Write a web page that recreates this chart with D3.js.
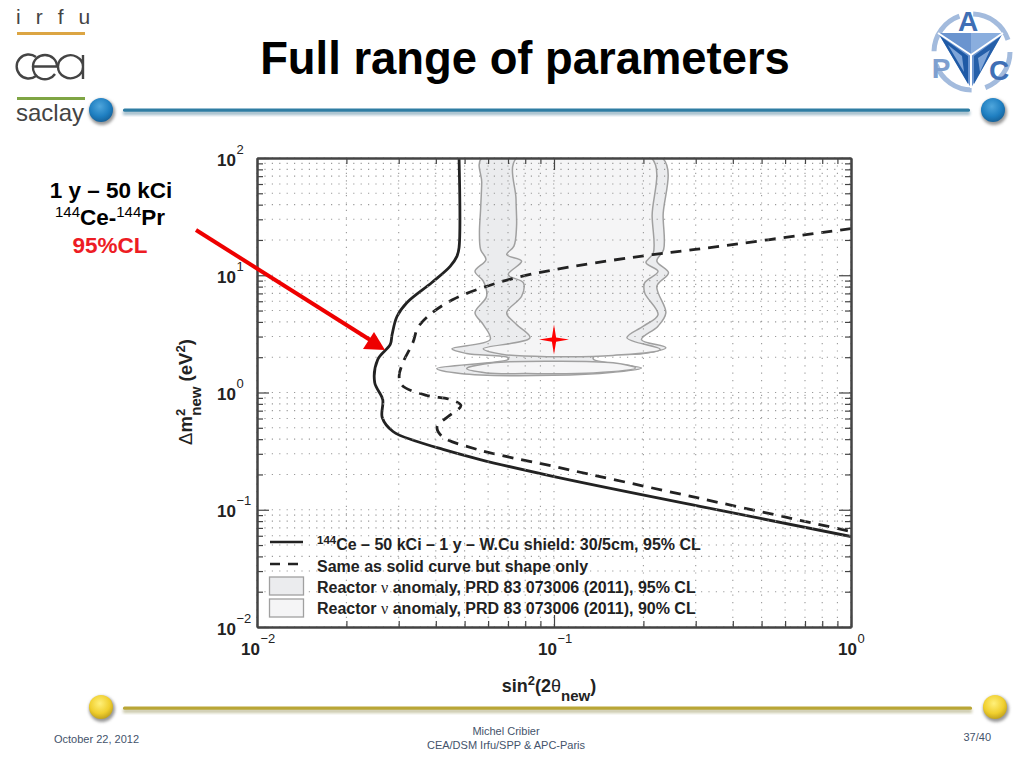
<!DOCTYPE html>
<html><head><meta charset="utf-8">
<script src="https://cdn.jsdelivr.net/npm/d3@7"></script>
<style>html,body{margin:0;background:#fff;overflow:hidden}svg{display:block}text{font-family:"Liberation Sans",Arial,sans-serif}</style>
</head><body><svg id="c" width="1024" height="768"></svg>
<script>
const titleText = "Full range of parameters";
const xDecades = [0.01, 0.1, 1];
const yDecades = [0.01, 0.1, 1, 10, 100];
const solidX = [0.0479,0.0479,0.0471,0.0447,0.0388,0.0320,0.0296,0.0285,0.0281,0.0255,0.0249,0.0265,0.0264,0.0287,0.0346,0.0423,0.0564,0.1,0.31,1];
const solidY = [100,17.2,14.5,11.9,8.67,5.86,4.45,3.12,2.57,1.91,1.22,0.872,0.612,0.465,0.382,0.327,0.268,0.192,0.107,0.0591];
const dashX = [1,0.299,0.215,0.116,0.075,0.0577,0.0457,0.0382,0.0348,0.0335,0.031,0.0301,0.0308,0.0373,0.0447,0.0486,0.044,0.0404,0.042,0.0551,0.1,0.31,1];
const dashY = [25,16.6,15,11.9,9.57,7.86,6.21,4.62,3.58,2.67,1.8,1.37,1.15,0.943,0.872,0.775,0.624,0.513,0.422,0.327,0.234,0.125,0.0653];
const cl95X = [0.0571,0.0571,0.0566,0.0561,0.0566,0.059,0.0542,0.0578,0.0593,0.0542,0.0578,0.061,0.0453,0.0508,0.0701,0.0701,0.0403,0.0483,0.0995,0.158,0.197,0.136,0.136,0.2,0.238,0.197,0.224,0.238,0.222,0.243,0.222,0.234,0.233,0.232];
const cl95Y = [100,61.8,36.4,23,16.6,13.6,10.8,8.9,6.62,4.78,3.8,2.83,2.36,2.15,1.98,1.91,1.6,1.45,1.4,1.49,1.62,1.91,2.02,2.15,2.41,2.83,3.68,4.78,8.07,10.5,13.2,16.6,31.9,100];
const cl90X = [0.0748,0.0745,0.0748,0.0733,0.0693,0.0778,0.0701,0.0789,0.0778,0.0693,0.0748,0.083,0.0578,0.0675,0.0995,0.158,0.228,0.176,0.2,0.224,0.202,0.202,0.224,0.204,0.216,0.214,0.213];
const cl90Y = [100,44.3,26.2,17.7,15,13.2,10.1,8.62,6.62,4.78,3.8,2.93,2.36,2.11,2.02,2.07,2.33,2.93,3.68,4.62,7.08,8.62,10.8,12.8,15.5,31.9,100];
const lobe90X = [0.0508,0.0625,0.0995,0.158,0.188,0.136,0.0809,0.0593];
const lobe90Y = [1.6,1.79,1.85,1.79,1.62,1.47,1.45,1.47];
const bestFit = [0.1, 2.83];
const legendLabels = ["Ce – 50 kCi – 1 y – W.Cu shield: 30/5cm, 95% CL","Same as solid curve but shape only","Reactor ν anomaly, PRD 83 073006 (2011), 95% CL","Reactor ν anomaly, PRD 83 073006 (2011), 90% CL"];

const svg = d3.select("#c");
const defs = svg.append("defs");
function ball(id,c0,c1,c2){
  const g=defs.append("radialGradient").attr("id",id).attr("cx","45%").attr("cy","35%").attr("r","70%");
  g.append("stop").attr("offset","0%").attr("stop-color",c0);
  g.append("stop").attr("offset","60%").attr("stop-color",c1);
  g.append("stop").attr("offset","100%").attr("stop-color",c2);
}
ball("blueBall","#4fa6dc","#1f7fc1","#155d94");
ball("yellowBall","#fff07a","#f0cf2e","#b99a1a");
const blurF=defs.append("filter").attr("id","soft").attr("x","-30%").attr("y","-30%").attr("width","160%").attr("height","160%");
blurF.append("feGaussianBlur").attr("stdDeviation",1.6);
defs.append("clipPath").attr("id","plotClip").append("rect").attr("x",257).attr("y",158).attr("width",594).attr("height",469);

// Slide decoration
function rule(x0,x1,y,color,shadow){
  svg.append("rect").attr("x",x0).attr("y",y+1).attr("width",x1-x0).attr("height",4).attr("fill",shadow).attr("filter","url(#soft)");
  svg.append("rect").attr("x",x0).attr("y",y-1.5).attr("width",x1-x0).attr("height",3.2).attr("fill",color).attr("rx",1.5);
}
rule(123,970,110,"#2f7da3","#9db9c8");
rule(123,972,708,"#b9a636","#c9c7a8");
[[101,110,"blueBall"],[993,110,"blueBall"],[101,707,"yellowBall"],[995,707,"yellowBall"]].forEach(([x,y,f])=>{
  svg.append("circle").attr("cx",x+1).attr("cy",y+2).attr("r",13).attr("fill","#999").attr("filter","url(#soft)");
  svg.append("circle").attr("cx",x).attr("cy",y).attr("r",12).attr("fill",`url(#${f})`);
});
svg.append("text").attr("x",525).attr("y",74).attr("text-anchor","middle").attr("font-size",45.4).attr("font-weight","bold").attr("fill","#000").text(titleText);

// irfu / cea / saclay logo
svg.append("text").attr("x",16).attr("y",24).attr("font-size",21).attr("letter-spacing",15).attr("fill","#444").text("irfu");
svg.append("rect").attr("x",17).attr("y",32).attr("width",68).attr("height",3).attr("fill","#dca543");
const cea=svg.append("g").attr("fill","none").attr("stroke","#444").attr("stroke-width",2.4);
cea.append("path").attr("d","M36,57 A12,12 0 1 0 36,76");
cea.append("path").attr("d","M33,66.5 H57 A12,11.5 0 0 0 33,66.5 A12,11.5 0 0 0 55,74");
cea.append("path").attr("d","M83,79 V55 M83,66.5 A12.5,11.5 0 1 0 83,67");
svg.append("rect").attr("x",17).attr("y",97).attr("width",68).attr("height",3).attr("fill","#7fa544");
svg.append("text").attr("x",16).attr("y",121).attr("font-size",24).attr("fill","#444").text("saclay");

// APC logo
const apc=svg.append("g");
apc.append("circle").attr("cx",972).attr("cy",52).attr("r",38).attr("fill","none").attr("stroke","#a3bbdd").attr("stroke-width",5).attr("stroke-dasharray","46 14");
apc.append("path").attr("d","M938,33 L1003,33 L971,88 Z").attr("fill","#6a94cf");
apc.append("path").attr("d","M971,33 L1003,33 L971,54 Z").attr("fill","#8aaede");
apc.append("path").attr("d","M940,36 L968,56 L968,84 Z").attr("fill","#1f5aa6");
apc.append("path").attr("d","M1001,36 L974,56 L974,84 Z").attr("fill","#255fa9");
apc.append("path").attr("d","M948,45 L962,56 L964,72 Z").attr("fill","#7fa5d8");
apc.append("path").attr("d","M990,50 L978,58 L980,72 Z").attr("fill","#7fa5d8");
apc.append("path").attr("d","M971,55 L938,33 M971,55 L1003,33 M971,55 L971,88").attr("stroke","#fff").attr("stroke-width",2);
[["A",968,31,"#3f6fb5"],["P",941,78,"#7e9fcf"],["C",999,80,"#3f6fb5"]].forEach(([t,x,y,c])=>
  apc.append("text").attr("x",x).attr("y",y).attr("text-anchor","middle").attr("font-size",28).attr("font-family","Liberation Serif").attr("font-weight","bold").attr("fill",c).text(t));

// Scales
const x = d3.scaleLog().domain([0.01,1]).range([257,851]);
const y = d3.scaleLog().domain([0.01,100]).range([627,158]);
const minorsOf = (decades)=>{const a=[];decades.slice(0,-1).forEach(d=>d3.range(2,10).forEach(m=>a.push(d*m)));return a;};
const xAll = xDecades.concat(minorsOf(xDecades));
const yAll = yDecades.concat(minorsOf(yDecades));

// Regions
const plot = svg.append("g").attr("clip-path","url(#plotClip)");
const poly = (xs,ys)=>d3.line().x(i=>x(xs[i])).y(i=>y(ys[i])).curve(d3.curveCatmullRomClosed.alpha(0.5))(d3.range(xs.length));
const openLine = (xs,ys)=>d3.line().x(i=>x(xs[i])).y(i=>y(ys[i])).curve(d3.curveCatmullRom.alpha(0.5))(d3.range(xs.length));
plot.append("path").attr("d",poly(cl95X,cl95Y)).attr("fill","#ebecee").attr("stroke","#a0a0a0").attr("stroke-width",1.5);
plot.append("path").attr("d",poly(cl90X,cl90Y)).attr("fill","#f5f5f6").attr("stroke","#a0a0a0").attr("stroke-width",1.5);
plot.append("path").attr("d",poly(lobe90X,lobe90Y)).attr("fill","#f5f5f6").attr("stroke","#a0a0a0").attr("stroke-width",1.5);

// Grid
const grid = svg.append("g").attr("stroke","#9a9a9a").attr("stroke-width",1.1).attr("stroke-dasharray","1.2 6.2");
xAll.forEach(v=>grid.append("line").attr("x1",x(v)).attr("x2",x(v)).attr("y1",158).attr("y2",627));
yAll.forEach(v=>grid.append("line").attr("y1",y(v)).attr("y2",y(v)).attr("x1",257).attr("x2",851));

// Curves
plot.append("path").attr("d",openLine(dashX,dashY)).attr("fill","none").attr("stroke","#222").attr("stroke-width",2.8).attr("stroke-dasharray","11 8");
plot.append("path").attr("d",openLine(solidX,solidY)).attr("fill","none").attr("stroke","#222").attr("stroke-width",2.8);

// Best-fit star
const star4 = {draw(ctx,s){const r=Math.sqrt(s),k=r*0.14;ctx.moveTo(0,-r);ctx.lineTo(k,-k);ctx.lineTo(r,0);ctx.lineTo(k,k);ctx.lineTo(0,r);ctx.lineTo(-k,k);ctx.lineTo(-r,0);ctx.lineTo(-k,-k);ctx.closePath();}};
svg.append("path").attr("d",d3.symbol(star4,225)()).attr("transform",`translate(${x(bestFit[0])},${y(bestFit[1])})`).attr("fill","#f00");

// Axes with inward ticks
function drawAxis(gen,transform){
  const g=svg.append("g").attr("transform",transform).call(gen);
  g.selectAll("path.domain").attr("stroke","#444").attr("stroke-width",2);
  g.selectAll(".tick line").attr("stroke","#444").attr("stroke-width",1.2);
  return g;
}
[[d3.axisBottom,"translate(0,627)"],[d3.axisTop,"translate(0,158)"]].forEach(([A,t])=>{
  drawAxis(A(x).tickValues(xAll.filter(v=>!xDecades.includes(v))).tickSize(-6).tickSizeOuter(0).tickFormat(""),t);
  drawAxis(A(x).tickValues(xDecades).tickSize(-12).tickSizeOuter(0).tickFormat(""),t);
});
[[d3.axisLeft,"translate(257,0)"],[d3.axisRight,"translate(851,0)"]].forEach(([A,t])=>{
  drawAxis(A(y).tickValues(yAll.filter(v=>!yDecades.includes(v))).tickSize(-6).tickSizeOuter(0).tickFormat(""),t);
  drawAxis(A(y).tickValues(yDecades).tickSize(-12).tickSizeOuter(0).tickFormat(""),t);
});

// Tick labels
function powerLabel(g,px,py,v){
  const e=Math.round(Math.log10(v));
  g.append("text").attr("x",px).attr("y",py).attr("font-size",17).attr("font-weight","bold").attr("fill","#222").text("10");
  g.append("text").attr("x",px+19.5).attr("y",py-12).attr("font-size",13).attr("fill","#222").text(String(e).replace("-","\u2212"));
}
const labs=svg.append("g");
xDecades.forEach(v=>powerLabel(labs,x(v)-(v<1?16:13),655,v));
yDecades.forEach(v=>powerLabel(labs,217,y(v)+7.5,v));

// Axis titles
const xt=svg.append("text").attr("x",549).attr("y",692).attr("text-anchor","middle").attr("font-size",18).attr("font-weight","bold").attr("fill","#222");
xt.append("tspan").text("sin");
xt.append("tspan").attr("dy",-7).attr("font-size",13).text("2");
xt.append("tspan").attr("dy",7).text("(2");
xt.append("tspan").attr("font-weight","normal").text("θ");
xt.append("tspan").attr("dy",9).attr("font-size",15).text("new");
xt.append("tspan").attr("dy",-9).text(")");
const yt=svg.append("text").attr("transform","translate(192,392) rotate(-90)").attr("text-anchor","middle").attr("font-size",18.6).attr("font-weight","bold").attr("fill","#222");
yt.append("tspan").attr("font-weight","normal").text("Δ");
yt.append("tspan").text("m");
yt.append("tspan").attr("dy",-7).attr("font-size",13).text("2");
yt.append("tspan").attr("dy",16).attr("dx",-7).attr("font-size",15).text("new");
yt.append("tspan").attr("dy",-9).text(" (eV");
yt.append("tspan").attr("dy",-7).attr("font-size",13).text("2");
yt.append("tspan").attr("dy",7).text(")");

// Legend
const lg=svg.append("g");
const lgY=[550,572,593,614];
legendLabels.forEach((t,i)=>{
  const e=lg.append("text").attr("x",317).attr("y",lgY[i]).attr("font-size",16).attr("font-weight","bold").attr("fill","#222");
  if(i===0){e.append("tspan").attr("dy",-6).attr("font-size",11.5).text("144");e.append("tspan").attr("dy",6).text(t);}
  else {
    const [a,b]=t.split("ν");
    if(b===undefined){e.text(t);}
    else {e.append("tspan").text(a);e.append("tspan").attr("font-weight","normal").attr("font-family","Liberation Serif").text("ν");e.append("tspan").text(b);}
  }
});
lg.append("line").attr("x1",270).attr("x2",303).attr("y1",542).attr("y2",542).attr("stroke","#222").attr("stroke-width",2.6);
lg.append("line").attr("x1",270).attr("x2",304).attr("y1",564).attr("y2",564).attr("stroke","#222").attr("stroke-width",2.6).attr("stroke-dasharray","10 8");
lg.append("rect").attr("x",269.5).attr("y",577).attr("width",34).attr("height",18).attr("fill","#ebecee").attr("stroke","#a0a0a0").attr("stroke-width",1.3);
lg.append("rect").attr("x",269.5).attr("y",599).attr("width",34).attr("height",18).attr("fill","#f5f5f6").attr("stroke","#a0a0a0").attr("stroke-width",1.3);

// Annotation
const note=svg.append("g").attr("text-anchor","middle").attr("font-weight","bold").attr("font-size",22.5);
note.append("text").attr("x",111).attr("y",198).attr("fill","#000").text("1 y – 50 kCi");
const n2=note.append("text").attr("x",110).attr("y",225).attr("fill","#000");
n2.append("tspan").attr("dy",-8).attr("font-size",15).attr("font-weight","normal").text("144");
n2.append("tspan").attr("dy",8).text("Ce-");
n2.append("tspan").attr("dy",-8).attr("font-size",15).attr("font-weight","normal").text("144");
n2.append("tspan").attr("dy",8).text("Pr");
note.append("text").attr("x",110).attr("y",253).attr("fill","#ed1c24").text("95%CL");
svg.append("line").attr("x1",196).attr("y1",230).attr("x2",375).attr("y2",343).attr("stroke","#ee0000").attr("stroke-width",4);
svg.append("path").attr("d","M385,350 L363,349 L374,332 Z").attr("fill","#ee0000");

// Footer
const ft=svg.append("g").attr("font-size",11).attr("fill","#44536b");
ft.append("text").attr("x",54).attr("y",743).text("October 22, 2012");
ft.append("text").attr("x",506).attr("y",735).attr("text-anchor","middle").text("Michel Cribier");
ft.append("text").attr("x",506).attr("y",749).attr("text-anchor","middle").text("CEA/DSM Irfu/SPP & APC-Paris");
ft.append("text").attr("x",991).attr("y",741).attr("text-anchor","end").text("37/40");
</script></body></html>
